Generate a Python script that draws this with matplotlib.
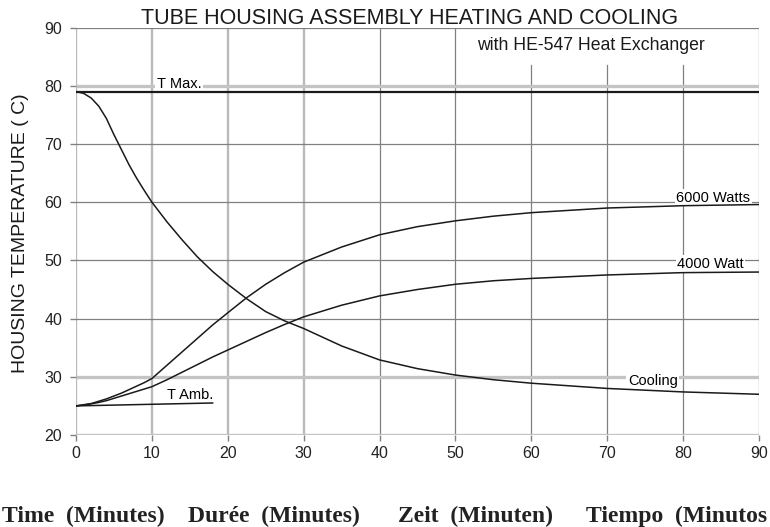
import numpy as np
import matplotlib.pyplot as plt

# data (minutes, deg C)
minutes = [0, 1, 2, 3, 4, 5, 6, 7, 8, 9, 10, 12, 14, 16, 18, 20, 22.5, 25, 27.5, 30,
           35, 40, 45, 50, 55, 60, 70, 80, 90]
cooling = [79, 78.7, 77.9, 76.5, 74.4, 71.6, 69.0, 66.4, 64.1, 62.0, 60, 56.6, 53.5, 50.6, 48.1,
           45.9, 43.4, 41.2, 39.6, 38.3, 35.3, 32.9, 31.4, 30.3, 29.5, 28.9, 28.0, 27.4, 27.0]
watts_6000 = [25, 25.2, 25.4, 25.8, 26.2, 26.7, 27.2, 27.8, 28.4, 29.0, 29.7, 32.0, 34.3, 36.6, 38.9,
              41.0, 43.6, 45.9, 47.9, 49.7, 52.3, 54.4, 55.8, 56.8, 57.6, 58.2, 59.0, 59.4, 59.6]
watts_4000 = [25, 25.15, 25.35, 25.6, 25.9, 26.3, 26.7, 27.1, 27.5, 27.9, 28.3, 29.5, 30.8, 32.1, 33.4,
              34.6, 36.1, 37.6, 39.0, 40.3, 42.3, 43.9, 45.0, 45.9, 46.5, 46.9, 47.5, 47.9, 48.0]
tmax_x = [0, 90]
tmax_y = [79, 79]
tamb_x = [0, 18]
tamb_y = [25, 25.5]

x_ticks = [0, 10, 20, 30, 40, 50, 60, 70, 80, 90]
y_ticks = [20, 30, 40, 50, 60, 70, 80, 90]
bottom_labels = ["Time  (Minutes)", "Durée  (Minutes)", "Zeit  (Minuten)", "Tiempo  (Minutos"]

SANS = "Liberation Sans"
SERIF = "Liberation Serif"
DARK = "#808080"
LIGHT = "#c4c4c4"

fig = plt.figure(figsize=(7.7, 5.27), dpi=100)
ax = fig.add_axes([76 / 770, 1 - 435 / 527, 683 / 770, 407.4 / 527])
ax.set_xlim(0, 90)
ax.set_ylim(20, 90)
for s in ax.spines.values():
    s.set_visible(False)

# grid, drawn by hand since some lines differ
for v in x_ticks:
    top = 1.0 if v in (0, 10, 20, 30, 40, 50, 90) else (83.5 - 20) / 70
    if v in (0, 10, 20, 30):
        ax.axvline(v, ymax=top, color="#bababa", lw=1.7, zorder=1)
    else:
        ax.axvline(v, ymax=top, color=DARK, lw=0.9, zorder=1)
for v in y_ticks:
    if v in (20, 30, 80):
        ax.axhline(v, color=LIGHT, lw=2.4, zorder=1)
    else:
        ax.axhline(v, color=DARK, lw=0.9, zorder=1)

ax.set_xticks(x_ticks)
ax.set_yticks(y_ticks)
ax.tick_params(axis="x", length=4, width=1, color=DARK, pad=4, labelsize=11.5)
ax.tick_params(axis="y", length=4, width=1, color=DARK, pad=6, labelsize=11.5)
for lab in ax.get_xticklabels() + ax.get_yticklabels():
    lab.set_fontfamily(SANS)
    lab.set_color("#222222")

# curves
lc = "#1a1a1a"
ax.plot(tmax_x, tmax_y, color=lc, lw=1.6, zorder=3)
ax.plot(minutes, cooling, color=lc, lw=1.1, zorder=3)
ax.plot(minutes, watts_6000, color=lc, lw=1.1, zorder=3)
ax.plot(minutes, watts_4000, color=lc, lw=1.1, zorder=3)
ax.plot(tamb_x, tamb_y, color=lc, lw=1.1, zorder=3)

box = dict(fc="white", ec="none", pad=1.0)
ax.text(13.6, 80.3, "T Max.", ha="center", va="center", fontsize=10.5, family=SANS, bbox=box, zorder=2)
ax.text(84.0, 60.8, "6000 Watts", ha="center", va="center", fontsize=10.5, family=SANS, bbox=box, zorder=2)
ax.text(83.6, 49.4, "4000 Watt", ha="center", va="center", fontsize=10.5, family=SANS, bbox=box, zorder=2)
ax.text(76.0, 29.2, "Cooling", ha="center", va="center", fontsize=10.5, family=SANS, bbox=box, zorder=2)
ax.text(15.1, 26.9, "T Amb.", ha="center", va="center", fontsize=10.5, family=SANS, zorder=2)

# titles and labels
fig.text(410 / 770, 1 - 24 / 527, "TUBE HOUSING ASSEMBLY HEATING AND COOLING",
         ha="center", va="baseline", fontsize=15.5, family=SANS, color="#1a1a1a")
fig.text(477 / 770, 1 - 50 / 527, "with HE-547 Heat Exchanger",
         ha="left", va="baseline", fontsize=12.7, family=SANS, color="#1a1a1a")
fig.text(21 / 770, 1 - 233.5 / 527, "HOUSING TEMPERATURE ( C)", rotation=90,
         ha="center", va="center", fontsize=14, family=SANS, color="#1a1a1a")

# bottom axis title in four languages
ypos = 1 - 521.7 / 527
fig.text(2 / 770, ypos, bottom_labels[0], ha="left", va="baseline",
         fontsize=17, family=SERIF, weight="bold", color="#222222")
fig.text(188 / 770, ypos, bottom_labels[1], ha="left", va="baseline",
         fontsize=17, family=SERIF, weight="bold", color="#222222")
fig.text(398 / 770, ypos, bottom_labels[2], ha="left", va="baseline",
         fontsize=17, family=SERIF, weight="bold", color="#222222")
fig.text(767 / 770, ypos, bottom_labels[3], ha="right", va="baseline",
         fontsize=17, family=SERIF, weight="bold", color="#222222")

fig.savefig("out.png", dpi=100)
